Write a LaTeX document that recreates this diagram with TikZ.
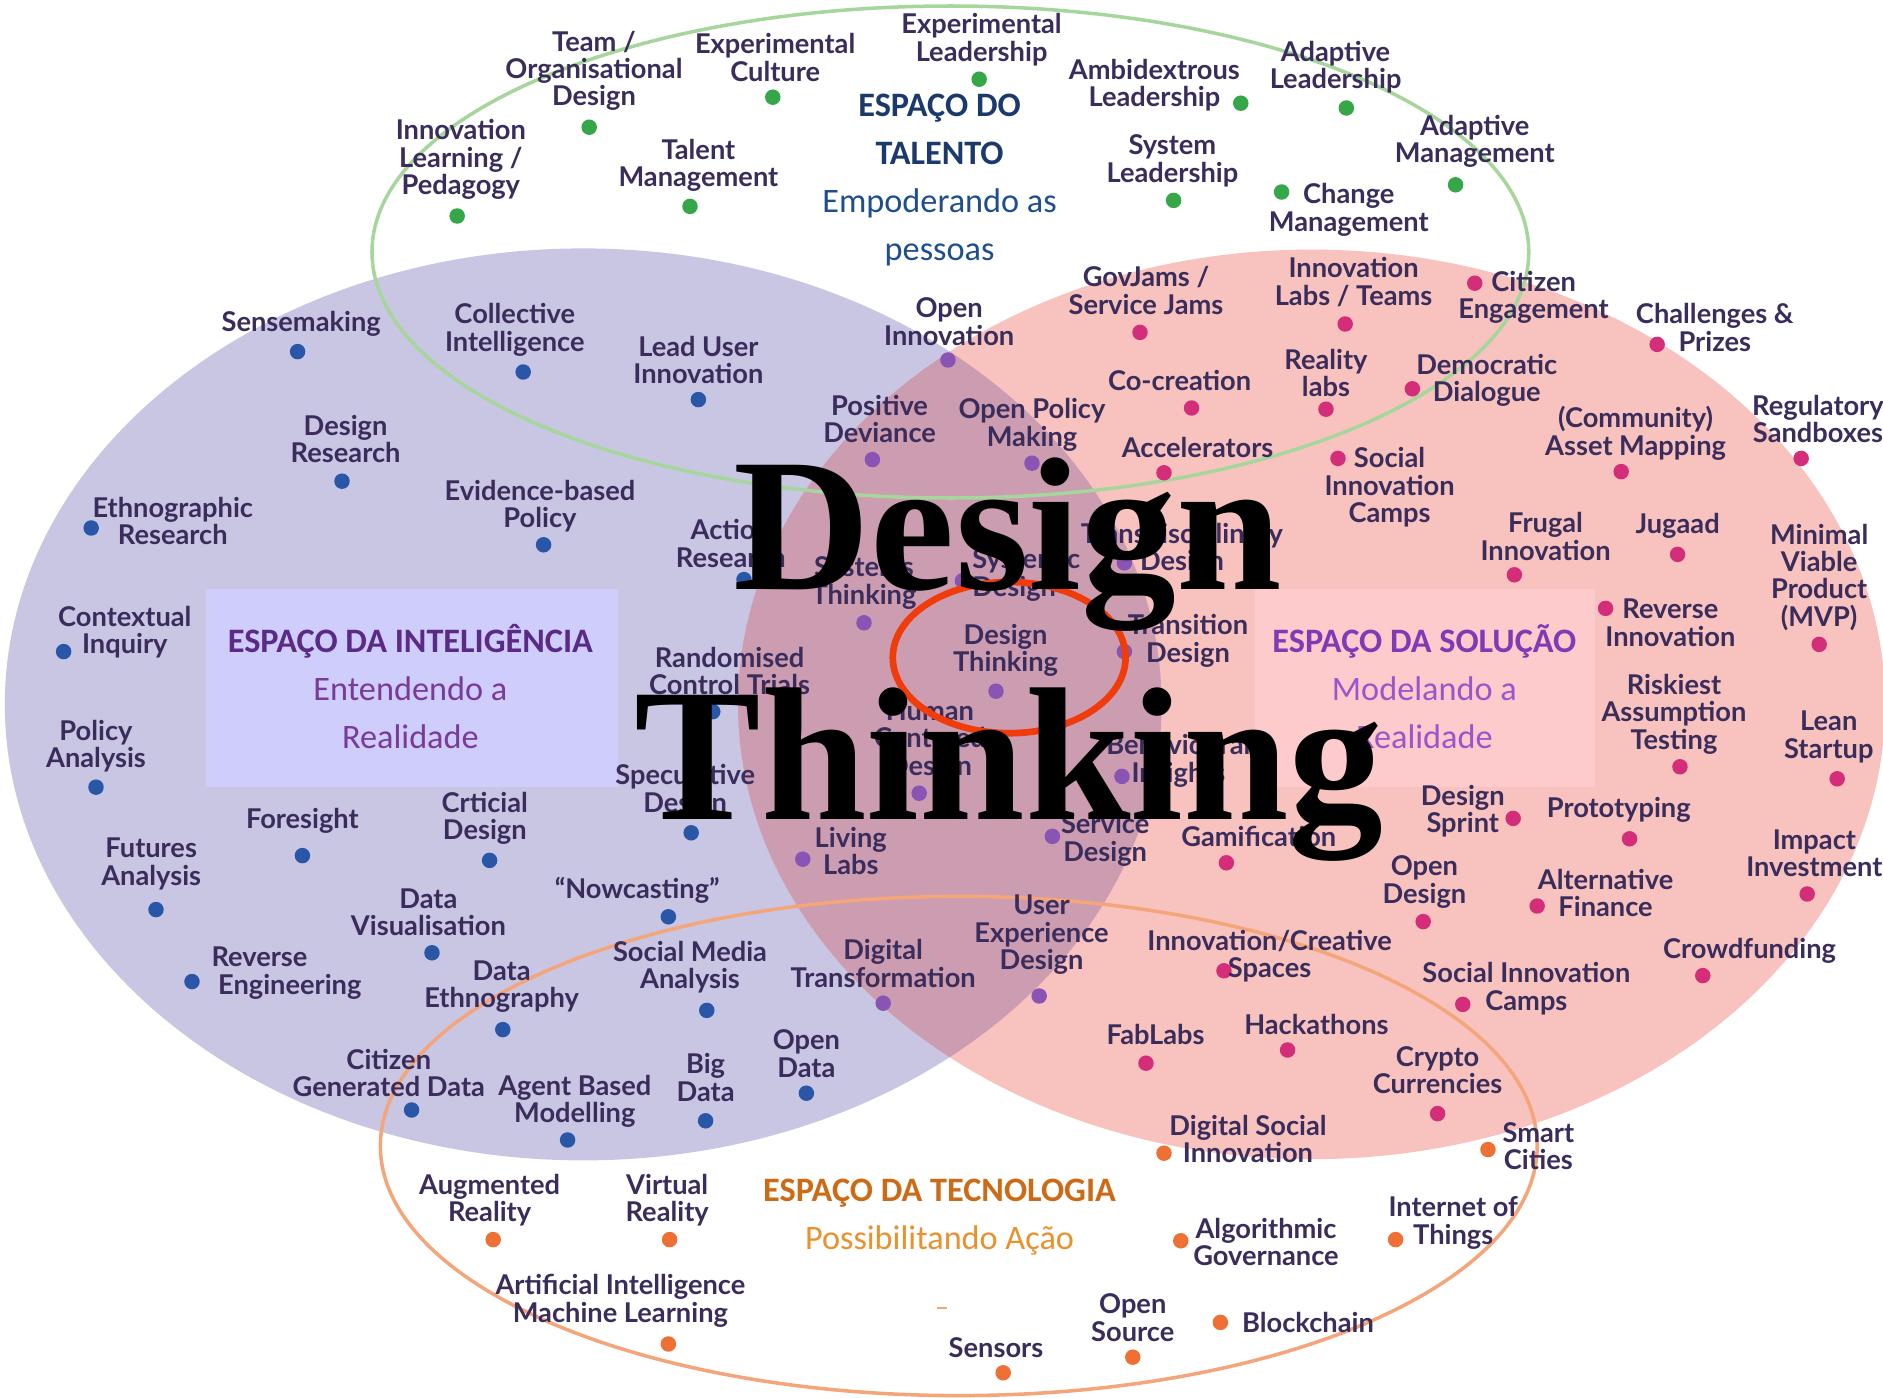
\documentclass[tikz,border=0pt]{standalone}
\usepackage{fontspec}
\setmainfont{Lato}
\newfontfamily\calfont{Carlito}
\newfontfamily\timesfont{Liberation Serif}
\definecolor{purpleFill}{HTML}{C9C6E3}
\definecolor{pinkFill}{HTML}{F8C3BE}
\definecolor{overlapFill}{HTML}{CC9CB1}
\definecolor{greenLine}{HTML}{A6D69B}
\definecolor{orangeLine}{HTML}{F4A57A}
\definecolor{redEll}{HTML}{F03C0A}
\definecolor{txtc}{HTML}{3A2C5B}
\definecolor{dotG}{HTML}{35A748}
\definecolor{dotB}{HTML}{2A56A8}
\definecolor{dotM}{HTML}{D42E7B}
\definecolor{dotP}{HTML}{8954B4}
\definecolor{dotO}{HTML}{EE7034}
\definecolor{boxA}{HTML}{CFCDFB}
\definecolor{boxB}{HTML}{FDCBCB}
\definecolor{navyA}{HTML}{1B3A6B}
\definecolor{navyB}{HTML}{1F4E8E}
\definecolor{intA}{HTML}{5B2A86}
\definecolor{intB}{HTML}{7A3A99}
\definecolor{solA}{HTML}{7E3BB5}
\definecolor{solB}{HTML}{9A55CC}
\definecolor{tecA}{HTML}{CC6A16}
\definecolor{tecB}{HTML}{E8912D}
\newcommand{\itm}[6][]{%
  \node[dotn, fill=#3] (#2d) at #4 {};
  \node[lbl, #1] (#2) at #5 {#6};
}
\begin{document}
\begin{tikzpicture}[x=0.024cm,y=-0.024cm,
  dotn/.style={circle, inner sep=0pt, minimum size=0.31cm, draw=none},
  lbl/.style={text=txtc, align=center, inner sep=0pt, font=\bfseries\fontsize{15.5}{15.6}\selectfont},
  ttl/.style={align=center, inner sep=0pt, font=\calfont\fontsize{19.5}{27.4}\selectfont},
  big/.style={inner sep=0pt, anchor=base, font=\timesfont\bfseries\fontsize{108}{130}\selectfont}]
\useasboundingbox (0,0) rectangle (1569.2,1164.2);
\fill[white] (0,0) rectangle (1569.2,1164.2);
% regions
\fill[purpleFill] (486,587) ellipse [x radius=482, y radius=380];
\fill[pinkFill] (1093,587) ellipse [x radius=478, y radius=379];
\begin{scope}
  \clip (486,587) ellipse [x radius=482, y radius=380];
  \fill[overlapFill] (1093,587) ellipse [x radius=478, y radius=379];
\end{scope}
\fill[boxA] (172,491) rectangle (515,656);
\fill[boxB] (1046,491) rectangle (1329,656);
\draw[greenLine, line width=2pt] (792,210) ellipse [x radius=482, y radius=205];
\draw[orangeLine, line width=2pt] (799,955) ellipse [x radius=482, y radius=208];
\draw[orangeLine, line width=1pt] (781,1090) -- (789,1090);
% titles
\node[ttl] (talent) at (783,150) {\textcolor{navyA}{\bfseries ESPAÇO DO}\\\textcolor{navyA}{\bfseries TALENTO}\\\textcolor{navyB}{Empoderando as}\\\textcolor{navyB}{pessoas}};
\node[ttl] (intel) at (342,572) {\textcolor{intA}{\bfseries ESPAÇO DA INTELIGÊNCIA}\\\textcolor{intB}{Entendendo a}\\\textcolor{intB}{Realidade}};
\node[ttl] (sol) at (1187,572) {\textcolor{solA}{\bfseries ESPAÇO DA SOLUÇÃO}\\\textcolor{solB}{Modelando a}\\\textcolor{solB}{Realidade}};
\node[ttl] (tec) at (783,1014) {\textcolor{tecA}{\bfseries ESPAÇO DA TECNOLOGIA}\\\textcolor{tecB}{Possibilitando Ação}};
% talent
\itm{t1}{dotG}{(491,106)}{(495,59)}{Team /\\Organisational\\Design}
\itm{t2}{dotG}{(644,81)}{(646,48)}{Experimental\\Culture}
\itm{t3}{dotG}{(816,66)}{(818,33)}{Experimental\\Leadership}
\itm{t4}{dotG}{(1034,86)}{(962,71)}{Ambidextrous\\Leadership}
\itm{t5}{dotG}{(1122,90)}{(1113,56)}{Adaptive\\Leadership}
\itm{t6}{dotG}{(381,180)}{(384,133)}{Innovation\\Learning /\\Pedagogy}
\itm{t7}{dotG}{(575,172)}{(582,138)}{Talent\\Management}
\itm{t8}{dotG}{(978,167)}{(977,134)}{System\\Leadership}
\itm{t9}{dotG}{(1213,154)}{(1229,118)}{Adaptive\\Management}
\itm{t10}{dotG}{(1068,160)}{(1124,175)}{Change\\Management}
% intelligence
\itm{b1}{dotB}{(248,293)}{(251,270)}{Sensemaking}
\itm{b2}{dotB}{(436,310)}{(429,275)}{Collective\\Intelligence}
\itm{b3}{dotB}{(582,333)}{(582,300)}{Lead User\\Innovation}
\itm{b4}{dotB}{(285,401)}{(288,366)}{Design\\Research}
\itm{b5}{dotB}{(76,440)}{(144,434)}{Ethnographic\\Research}
\itm{b6}{dotB}{(453,454)}{(450,422)}{Evidence-based\\Policy}
\itm{b7}{dotB}{(620,483)}{(609,453)}{Action\\Research}
\itm{b8}{dotB}{(53,543)}{(104,527)}{Contextual\\Inquiry}
\itm{b9}{dotB}{(80,656)}{(80,622)}{Policy\\Analysis}
\itm{b10}{dotB}{(594,593)}{(608,559)}{Randomised\\Control Trials}
\itm{b11}{dotB}{(252,713)}{(252,684)}{Foresight}
\itm{b12}{dotB}{(408,717)}{(404,682)}{Crticial\\Design}
\itm{b13}{dotB}{(576,694)}{(571,659)}{Speculative\\Design}
\itm{b14}{dotB}{(130,758)}{(126,720)}{Futures\\Analysis}
\itm{b15}{dotB}{(360,794)}{(357,760)}{Data\\Visualisation}
\itm{b16}{dotB}{(557,764)}{(531,742)}{“Nowcasting”}
\itm[align=left, anchor=west]{b17}{dotB}{(160,818)}{(176,811)}{Reverse\\\ Engineering}
\itm{b18}{dotB}{(419,858)}{(418,822)}{Data\\Ethnography}
\itm{b19}{dotB}{(589,842)}{(575,806)}{Social Media\\Analysis}
\itm{b20}{dotB}{(343,925)}{(324,894)}{Citizen\\Generated Data}
\itm{b21}{dotB}{(473,950)}{(479,918)}{Agent Based\\Modelling}
\itm{b22}{dotB}{(588,934)}{(588,898)}{Big\\Data}
\itm{b23}{dotB}{(672,911)}{(672,878)}{Open\\Data}
% overlap
\itm{p1}{dotP}{(790,300)}{(791,268)}{Open\\Innovation}
\itm{p2}{dotP}{(727,383)}{(733,349)}{Positive\\Deviance}
\itm{p3}{dotP}{(860,386)}{(860,354)}{Open Policy\\Making}
\itm{p4}{dotP}{(720,519)}{(720,486)}{Systems\\Thinking}
\itm[align=left, anchor=west]{p5}{dotP}{(802,484)}{(810,479)}{Systemic\\Design}
\itm{p6}{dotP}{(937,469)}{(985,458)}{Transdisciplinary\\Design}
\itm{p7}{dotP}{(830,576)}{(838,542)}{Design\\Thinking}
\itm{p8}{dotP}{(937,543)}{(990,534)}{Transition\\Design}
\itm{p9}{dotP}{(766,661)}{(775,617)}{Human\\Centered\\Design}
\itm{p10}{dotP}{(935,647)}{(982,634)}{Behavioural\\Insights}
\itm{p11}{dotP}{(669,716)}{(709,709)}{Living\\Labs}
\itm{p12}{dotP}{(877,697)}{(921,700)}{Service\\Design}
\itm{p13}{dotM}{(1022,719)}{(1049,697)}{Gamification}
\itm{p14}{dotP}{(866,830)}{(868,779)}{User\\Experience\\Design}
\itm{p15}{dotP}{(736,836)}{(736,803)}{Digital\\Transformation}
% solution
\itm{m1}{dotM}{(950,277)}{(955,242)}{GovJams /\\Service Jams}
\itm{m2}{dotM}{(1121,270)}{(1128,235)}{Innovation\\Labs / Teams}
\itm{m3}{dotM}{(1229,236)}{(1278,248)}{Citizen\\Engagement}
\itm{m4}{dotM}{(1381,287)}{(1429,273)}{Challenges \&\\Prizes}
\itm{m5}{dotM}{(993,340)}{(983,317)}{Co-creation}
\itm{m6}{dotM}{(1105,341)}{(1105,311)}{Reality\\labs}
\itm{m7}{dotM}{(1177,324)}{(1239,317)}{Democratic\\Dialogue}
\itm{m8}{dotM}{(1501,382)}{(1515,349)}{Regulatory\\Sandboxes}
\itm{m9}{dotM}{(1351,393)}{(1363,361)}{(Community)\\Asset Mapping}
\itm{m10}{dotM}{(970,394)}{(998,373)}{Accelerators}
\itm{m11}{dotM}{(1115,382)}{(1158,406)}{Social\\Innovation\\Camps}
\itm{m12}{dotM}{(1262,479)}{(1288,447)}{Frugal\\Innovation}
\itm{m13}{dotM}{(1398,462)}{(1398,438)}{Jugaad}
\itm{m14}{dotM}{(1516,537)}{(1516,481)}{Minimal\\Viable\\Product\\(MVP)}
\itm{m15}{dotM}{(1338,507)}{(1392,519)}{Reverse\\Innovation}
\itm{m16}{dotM}{(1400,639)}{(1395,595)}{Riskiest\\Assumption\\Testing}
\itm{m17}{dotM}{(1531,649)}{(1524,614)}{Lean\\Startup}
\itm{m18}{dotM}{(1261,682)}{(1219,676)}{Design\\Sprint}
\itm{m19}{dotM}{(1358,699)}{(1349,675)}{Prototyping}
\itm{m20}{dotM}{(1506,745)}{(1512,711)}{Impact\\Investment}
\itm{m21}{dotM}{(1186,768)}{(1187,735)}{Open\\Design}
\itm{m22}{dotM}{(1281,755)}{(1338,744)}{Alternative\\Finance}
\itm{m23}{dotM}{(1419,813)}{(1458,792)}{Crowdfunding}
\itm{m24}{dotM}{(1020,809)}{(1058,797)}{Innovation/Creative\\Spaces}
\itm{m25}{dotM}{(1219,837)}{(1272,824)}{Social Innovation\\Camps}
\itm{m26}{dotM}{(955,886)}{(963,862)}{FabLabs}
\itm{m27}{dotM}{(1073,875)}{(1097,854)}{Hackathons}
\itm{m28}{dotM}{(1198,928)}{(1198,892)}{Crypto\\Currencies}
% technology
\itm{o1}{dotO}{(970,961)}{(1040,949)}{Digital Social\\Innovation}
\itm{o2}{dotO}{(1240,958)}{(1282,955)}{Smart\\Cities}
\itm{o3}{dotO}{(411,1033)}{(408,1000)}{Augmented\\Reality}
\itm{o4}{dotO}{(558,1033)}{(556,1000)}{Virtual\\Reality}
\itm{o5}{dotO}{(1163,1033)}{(1211,1019)}{Internet of\\Things}
\itm{o6}{dotO}{(984,1034)}{(1055,1035)}{Algorithmic\\Governance}
\itm{o7}{dotO}{(557,1120)}{(517,1084)}{Artificial Intelligence\\Machine Learning}
\itm{o8}{dotO}{(836,1144)}{(830,1123)}{Sensors}
\itm{o9}{dotO}{(944,1131)}{(944,1098)}{Open\\Source}
\itm{o10}{dotO}{(1017,1102)}{(1090,1102)}{Blockchain}
% central highlight
\draw[redEll, line width=3.8pt] (841,548) ellipse [x radius=97, y radius=63];
\node[big] (dtA) at (840,491) {Design};
\node[big] (dtB) at (841,683) {Thinking};
\end{tikzpicture}
\end{document}
